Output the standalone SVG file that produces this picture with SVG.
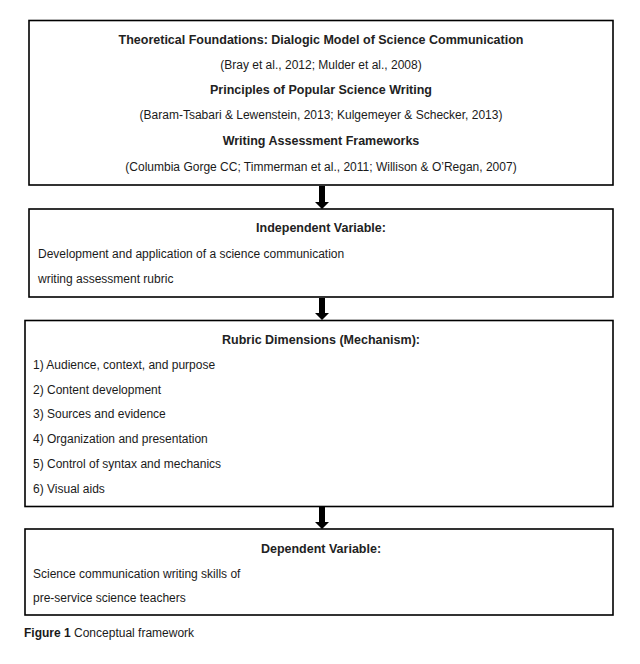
<svg xmlns="http://www.w3.org/2000/svg" width="640" height="664" viewBox="0 0 640 664">
<style>
.box{fill:#fff;stroke:#000;stroke-width:1.6}
.t{font-family:"Liberation Sans",Arial,sans-serif;font-size:12px;fill:#1a1a1a}
.h{font-family:"Liberation Sans",Arial,sans-serif;font-size:12.5px;font-weight:bold;fill:#222}
.c{text-anchor:middle}
.ar{fill:#000}
</style>
<rect width="640" height="664" fill="#fff"/>
<g id="theory">
<rect class="box" x="29" y="20.5" width="584" height="164.5"/>
<text class="h c" x="321" y="44">Theoretical Foundations: Dialogic Model of Science Communication</text>
<text class="t c" x="321" y="69">(Bray et al., 2012; Mulder et al., 2008)</text>
<text class="h c" x="321" y="94">Principles of Popular Science Writing</text>
<text class="t c" x="321" y="119">(Baram-Tsabari &amp; Lewenstein, 2013; Kulgemeyer &amp; Schecker, 2013)</text>
<text class="h c" x="321" y="145">Writing Assessment Frameworks</text>
<text class="t c" x="321" y="171">(Columbia Gorge CC; Timmerman et al., 2011; Willison &amp; O’Regan, 2007)</text>
</g>
<g id="independent">
<rect class="box" x="29" y="209" width="584" height="88"/>
<text class="h c" x="321" y="232">Independent Variable:</text>
<text class="t" x="38" y="258">Development and application of a science communication</text>
<text class="t" x="38" y="283">writing assessment rubric</text>
</g>
<g id="rubric">
<rect class="box" x="25" y="320.5" width="588" height="186"/>
<text class="h c" x="321" y="344">Rubric Dimensions (Mechanism):</text>
<text class="t" x="33" y="369">1) Audience, context, and purpose</text>
<text class="t" x="33" y="394">2) Content development</text>
<text class="t" x="33" y="418">3) Sources and evidence</text>
<text class="t" x="33" y="443">4) Organization and presentation</text>
<text class="t" x="33" y="468">5) Control of syntax and mechanics</text>
<text class="t" x="33" y="493">6) Visual aids</text>
</g>
<g id="dependent">
<rect class="box" x="25" y="529" width="588" height="86"/>
<text class="h c" x="321" y="553">Dependent Variable:</text>
<text class="t" x="33" y="578">Science communication writing skills of</text>
<text class="t" x="33" y="602">pre-service science teachers</text>
</g>
<g id="caption">
<text class="t" x="24" y="637"><tspan font-weight="bold">Figure 1</tspan> Conceptual framework</text>
</g>
<g id="connectors">
<path class="ar" d="M319 186 H325 V202 H329 L322 209 L315 202 H319 Z"/>
<path class="ar" d="M319 298 H325 V313 H329 L322 320 L315 313 H319 Z"/>
<path class="ar" d="M319 507 H325 V522 H329 L322 529 L315 522 H319 Z"/>
</g>
</svg>
